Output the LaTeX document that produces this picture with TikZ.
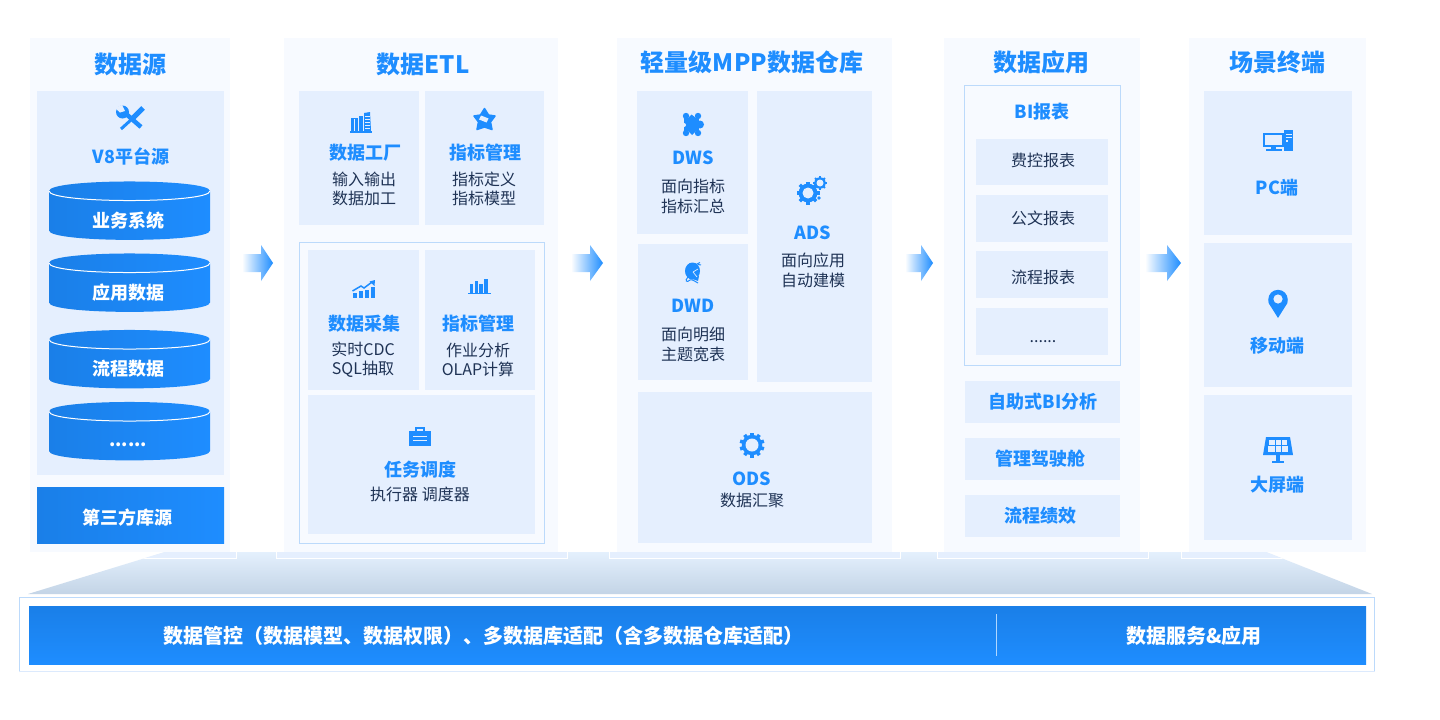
\documentclass[tikz,border=0pt]{standalone}
\usepackage{fontspec}
\setmainfont{Noto Sans CJK SC}
\usetikzlibrary{shapes.geometric}
\definecolor{ic}{HTML}{1E8DFF}
\definecolor{icd}{HTML}{1A7FE8}
\definecolor{pan}{HTML}{F7FAFF}
\definecolor{inn}{HTML}{E5EFFE}
\definecolor{dark}{HTML}{1F3355}
\definecolor{frm}{HTML}{BCDAFB}
\definecolor{traptop}{HTML}{E4F0FD}
\definecolor{trapbot}{HTML}{C3D4E6}
\definecolor{frmb}{HTML}{DCEAFD}
\tikzset{
  ttl/.style={font=\bfseries\fontsize{24}{28}\selectfont,text=ic,inner sep=0pt},
  sub/.style={font=\bfseries\fontsize{18}{22}\selectfont,text=ic,inner sep=0pt,yshift=-1pt},
  wsub/.style={font=\bfseries\fontsize{18}{22}\selectfont,text=white,inner sep=0pt,yshift=-1pt},
  bodytext/.style={font=\fontsize{16}{20.5}\selectfont,text=dark,inner sep=0pt,align=center,yshift=-.5pt},
  bodytight/.style={font=\fontsize{16}{19}\selectfont,text=dark,inner sep=0pt,align=center},
  bandtext/.style={font=\bfseries\fontsize{20}{24}\selectfont,text=white,inner sep=0pt},
}
\newcommand{\pnl}[5]{\fill[#5] (#1,#2) rectangle (#3,#4);}
\newcommand{\cyl}[3]{%
  \shade[left color=icd,right color=ic]
   (49,#1+9.5) -- (49,#1+49) .. controls (49,#1+61.5) and (210,#1+61.5) .. (210,#1+49)
   -- (210,#1+9.5) .. controls (210,#1-3.2) and (49,#1-3.2) .. (49,#1+9.5) -- cycle;
  \draw[white,line width=1pt] (49,#1+9.5) .. controls (49,#1+22.2) and (210,#1+22.2) .. (210,#1+9.5);
  \node[wsub] (#3) at (128,#1+38) {#2};}
\newcommand{\arw}[3]{%
  \shade[left color=white,right color=ic]
   (#1,254) -- (#2,254) -- (#2,245) -- (#3,263) -- (#2,281) -- (#2,272) -- (#1,272) -- cycle;}
\newcommand{\gearicon}[5]{%
  \foreach \a in {1,...,#5}{
    \fill[ic,rotate around={\a*180/#5:(#1,#2)}] (#1-#3*0.14,#2-#3) rectangle (#1+#3*0.14,#2+#3);}
  \fill[ic] (#1,#2) circle[radius=#3*0.82];
  \fill[inn] (#1,#2) circle[radius=#4];}
\begin{document}
\begin{tikzpicture}[x=1pt,y=-1pt]
\useasboundingbox (0,0) rectangle (1440,720);
\fill[white] (0,0) rectangle (1440,720);
% trapezoid and brackets
\shade[top color=traptop,bottom color=trapbot] (165,552) -- (1266,552) -- (1372,594) -- (28,594) -- cycle;
\begin{scope}
\clip (165,552) -- (1266,552) -- (1372,594) -- (28,594) -- cycle;
\foreach \l/\r in {0/236.5,276.5/567,609/900.5,937/1148,1181.5/1440}{
  \fill[inn] (\l,545) rectangle (\r,558);
  \draw[white,line width=1pt] (\l,545) rectangle (\r,558);}
\end{scope}
% column panels
\pnl{30}{38}{230}{552}{pan}
\pnl{284}{38}{558}{552}{pan}
\pnl{617}{38}{892}{552}{pan}
\pnl{944}{38}{1140}{552}{pan}
\pnl{1189}{38}{1366}{552}{pan}
% column 1
\node[ttl] (t1) at (130,64) {数据源};
\pnl{37}{91}{224}{475}{inn}
% tools icon
\draw[ic,line width=4.5pt] (125,113) -- (141,127);
\fill[ic] (122.5,112) circle[radius=6.5];
\fill[inn] (122,105) -- (125,111) -- (120,112.5) -- (115,108) -- cycle;
\draw[ic,line width=5pt] (143,108) -- (132,119);
\draw[ic,line width=3pt] (132,119) -- (121,129);
\node[sub] (v8) at (131,155) {V8平台源};
\cyl{181.5}{业务系统}{c1}
\cyl{253.5}{应用数据}{c2}
\cyl{330}{流程数据}{c3}
\cyl{402}{}{c4}
\node[wsub] (c4t) at (128,444) {......};
\shade[left color=icd,right color=ic] (37,487) rectangle (224,543);
\node[wsub] (third) at (127,517) {第三方库源};
% column 2
\node[ttl] (t2) at (423,64) {数据ETL};
\pnl{299}{91}{419}{225}{inn}
\pnl{425}{91}{544}{225}{inn}
\draw[frm,fill=pan,line width=1pt] (299.5,242.5) rectangle (544,543);
\pnl{308}{250}{419}{390}{inn}
\pnl{425}{250}{535}{390}{inn}
\pnl{308}{395}{535}{534}{inn}
% buildings
\fill[ic] (351,118) rectangle (358,131);
\fill[ic] (359,116) rectangle (363,131);
\fill[ic] (364,113) -- (370,112) -- (371,131) -- (364,131) -- cycle;
\fill[ic] (350,131) rectangle (372,133);
\foreach \yy in {116,119,122,125,128}{\draw[inn,line width=.6pt] (365,\yy) -- (370,\yy);}
\draw[inn,line width=.6pt] (354.5,119) -- (354.5,131);
\node[sub] (a1) at (365,152) {数据工厂};
\node[bodytight] (a2) at (364,189) {输入输出\\数据加工};
% star
\fill[ic,line join=round,draw=ic,line width=1.5pt] (484.5,108.5) -- (488.5,115) -- (495,116) -- (490.5,122) -- (492,129.5) -- (484.5,127) -- (477,129.5) -- (478.5,122) -- (474,116) -- (480.5,115) -- cycle;
\fill[inn] (481,115.5) -- (488.5,118.5) -- (486.5,122.5) -- (479,119.5) -- cycle;
\node[sub] (b1) at (485,152) {指标管理};
\node[bodytight] (b2) at (484,189) {指标定义\\指标模型};
% chart
\fill[ic] (353,293) rectangle (357,298);
\fill[ic] (359,291) rectangle (363,298);
\fill[ic] (365,289.5) rectangle (369,298);
\fill[ic] (371,287) rectangle (375,298);
\draw[ic,line width=1.5pt] (352.5,291) -- (361,286) -- (364,288) -- (372,282);
\fill[ic] (375,280) -- (374.5,286) -- (369.5,281.5) -- cycle;
\node[sub] (c1t) at (364,323) {数据采集};
\node[bodytight] (c2t) at (363,360) {实时CDC\\SQL抽取};
% bars
\fill[ic] (470,284) rectangle (473,293);
\fill[ic] (474.5,281) rectangle (477.5,293);
\fill[ic] (479,284) rectangle (482.5,293);
\fill[ic] (484,279) rectangle (488,293);
\fill[ic] (468,293) rectangle (491,294);
\node[sub] (d1) at (478,323) {指标管理};
\node[bodytight] (d2) at (478,360) {作业分析\\OLAP计算};
% briefcase
\draw[ic,line width=1.5pt] (416,431) -- (416,428) -- (424,428) -- (424,431);
\fill[ic] (409,431) rectangle (431,446);
\draw[inn,line width=1pt] (413,436) -- (427,436) (413,440) -- (427,440);
\node[sub] (e1) at (420,469) {任务调度};
\node[bodytext] (e2) at (420,494) {执行器 调度器};
% column 3
\node[ttl] (t3) at (752,62) {轻量级MPP数据仓库};
\pnl{637}{91}{748}{234}{inn}
\pnl{638}{244}{748}{380}{inn}
\pnl{757}{91}{872}{382}{inn}
\pnl{638}{392}{872}{543}{inn}
% puzzle
\fill[ic] (684,118) rectangle (699,131);
\fill[ic] (686,116) circle[radius=3.2] (686,133) circle[radius=3.2] (698,116) circle[radius=3.2] (698,133) circle[radius=3.2];
\fill[ic] (700,124.5) circle[radius=4];
\fill[ic] (691.5,114.5) -- (696,118) -- (688,118) -- cycle;
\fill[ic] (692,135) -- (696,131) -- (688,131) -- cycle;
\fill[inn] (684,125) circle[radius=2];
\node[sub] (f1) at (693,157) {DWS};
\node[bodytext] (f2) at (693,196) {面向指标\\指标汇总};
% head
\fill[ic] (692.5,271) ellipse[x radius=7.5,y radius=8.5];
\fill[ic] (690,278) -- (699,276) -- (698,281) -- cycle;
\draw[inn,line width=.7pt] (693,272) -- (698,269) (693,272) -- (697,277);
\draw[ic,line width=1pt] (695,265) -- (700,262.5) (698,264.5) -- (701,265);
\draw[ic,line width=1pt] (688,277) .. controls (684,281) and (687,283) .. (690,280) .. controls (693,279) and (695,282) .. (698,283);
\node[sub] (g1) at (693,305) {DWD};
\node[bodytext] (g2) at (693,344) {面向明细\\主题宽表};
% gears
\gearicon{820}{183}{7}{3.5}{4}
\gearicon{808}{193}{11.5}{5.5}{4}
\fill[ic] (819,198) circle[radius=1.8];
\node[sub] (h1) at (813,232) {ADS};
\node[bodytext] (h2) at (813,270) {面向应用\\自动建模};
\gearicon{752}{445}{12.5}{6.5}{5}
\node[sub] (i1) at (752,478) {ODS};
\node[bodytext] (i2) at (752,500) {数据汇聚};
% column 4
\node[ttl] (t4) at (1041,62) {数据应用};
\draw[frm,line width=1pt,fill=pan] (964.5,85.5) rectangle (1120,365);
\node[sub] (j0) at (1042,111) {BI报表};
\pnl{976}{139}{1108}{185}{inn}
\pnl{976}{195}{1108}{242}{inn}
\pnl{976}{251}{1108}{298}{inn}
\pnl{976}{308}{1108}{355}{inn}
\node[bodytext] (j1) at (1043,160) {费控报表};
\node[bodytext] (j2) at (1043,218) {公文报表};
\node[bodytext] (j3) at (1043,277) {流程报表};
\node[bodytext] (j4) at (1043,341) {......};
\pnl{965}{381}{1120}{423}{inn}
\pnl{965}{438}{1120}{480}{inn}
\pnl{965}{495}{1120}{537}{inn}
\node[sub] (k1) at (1043,401) {自助式BI分析};
\node[sub] (k2) at (1040,458) {管理驾驶舱};
\node[sub] (k3) at (1040,515) {流程绩效};
% column 5
\node[ttl] (t5) at (1277,62) {场景终端};
\pnl{1204}{91}{1352}{235}{inn}
\pnl{1204}{243}{1352}{387}{inn}
\pnl{1204}{395}{1352}{540}{inn}
% PC
\draw[ic,line width=2pt] (1264,134) rectangle (1283,146);
\fill[ic] (1271,147) rectangle (1276,149);
\fill[ic] (1266,149) rectangle (1282,151);
\fill[ic] (1284,130) rectangle (1293,151);
\draw[inn,line width=1pt] (1285.5,134) -- (1291.5,134) (1285.5,137) -- (1291.5,137);
\fill[inn] (1286,140) rectangle (1288,141.5);
\node[sub] (l1) at (1277,187) {PC端};
% pin
\fill[ic] (1268.6,303) .. controls (1266,290) and (1290,290) .. (1287.4,303) -- (1278,318) -- cycle;
\fill[ic] (1278,299.5) circle[radius=9.7];
\fill[inn] (1278,299) circle[radius=4.6];
\node[sub] (l2) at (1277,345) {移动端};
% screen
\fill[ic] (1266,437) -- (1290,437) -- (1293,455) -- (1263,455) -- cycle;
\fill[inn] (1269,440) rectangle (1275,445);
\fill[inn] (1276,440) rectangle (1281,445);
\fill[inn] (1282,440) rectangle (1287,445);
\fill[inn] (1268,446) rectangle (1275,452);
\fill[inn] (1276,446) rectangle (1281,452);
\fill[inn] (1282,446) rectangle (1288,452);
\fill[ic] (1276,455) rectangle (1280,461);
\fill[ic] (1272,461) rectangle (1284,463);
\node[sub] (l3) at (1277,484) {大屏端};
% arrows between columns
\arw{242}{261}{273}
\arw{571}{590}{603}
\arw{905}{921}{933}
\arw{1145}{1167}{1181}
% bottom band
\fill[white] (19,597) rectangle (1374,672);
\draw[frm,line width=1pt] (19,672) -- (19,597) -- (1374.5,597) -- (1374.5,672);
\draw[frmb,line width=1.5pt] (19,671.5) -- (1374.5,671.5);
\shade[top color=icd,bottom color=ic] (29,606) rectangle (1366,664);
\draw[white!65!ic,line width=1pt] (996,614) -- (996,656);
\node[bandtext] (m1) at (483,636) {数据管控（数据模型、数据权限）、多数据库适配（含多数据仓库适配）};
\node[bandtext] (m2) at (1194,636) {数据服务\&应用};
\end{tikzpicture}
\end{document}
